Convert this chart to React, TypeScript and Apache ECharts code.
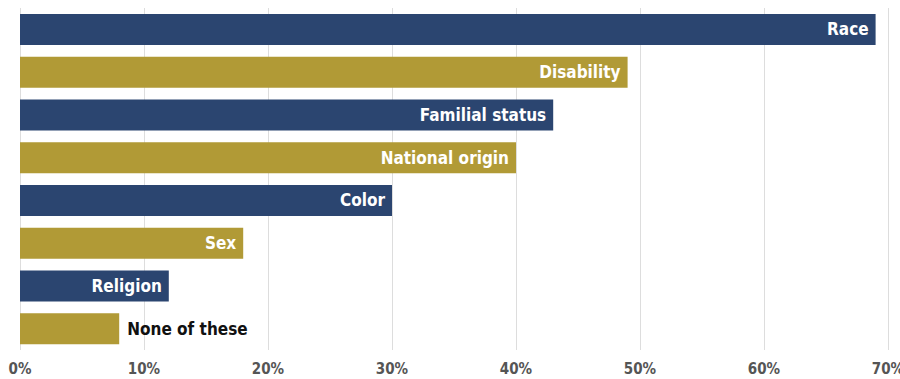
import React, { useEffect, useRef } from "react";
import * as echarts from "echarts";

const categories = ["Race", "Disability", "Familial status", "National origin", "Color", "Sex", "Religion", "None of these"];
const values = [69, 49, 43, 40, 30, 18, 12, 8];
const barColors = ["#2b4570", "#b19a36", "#2b4570", "#b19a36", "#2b4570", "#b19a36", "#2b4570", "#b19a36"];
const outsideLabel = ["None of these"];

const FONT = "'DejaVu Sans Condensed', 'Liberation Sans Narrow', sans-serif";

export default function App() {
  const ref = useRef<HTMLDivElement>(null);
  useEffect(() => {
    const chart = echarts.init(ref.current!, null, { renderer: "svg" });
    chart.setOption({
      animation: false,
      grid: { left: 20, right: 12, top: 8, bottom: 29, containLabel: false, outerBoundsMode: "none" },
      xAxis: {
        type: "value",
        min: 0,
        max: 70,
        interval: 10,
        axisLabel: {
          formatter: "{value}%",
          color: "#555555",
          fontFamily: FONT,
          fontWeight: "bold",
          fontSize: 15,
          margin: 11,
        },
        axisLine: { show: false },
        axisTick: { show: false },
        splitLine: { show: true, lineStyle: { color: "#dddddd", width: 1 } },
      },
      yAxis: {
        type: "category",
        data: categories,
        inverse: true,
        show: false,
      },
      series: [
        {
          type: "bar",
          barWidth: 31,
          data: values.map((v, i) => {
            const outside = outsideLabel.includes(categories[i]);
            return {
              value: v,
              itemStyle: { color: barColors[i] },
              label: {
                show: true,
                position: outside ? "right" : "insideRight",
                distance: outside ? 8 : 7,
                formatter: categories[i],
                color: outside ? "#111111" : "#ffffff",
                fontFamily: FONT,
                fontWeight: "bold",
                fontSize: 17,
              },
            };
          }),
        },
      ],
    });
    return () => chart.dispose();
  }, []);
  return <div ref={ref} style={{ width: 900, height: 379, position: "absolute", left: 0, top: 0 }} />;
}
